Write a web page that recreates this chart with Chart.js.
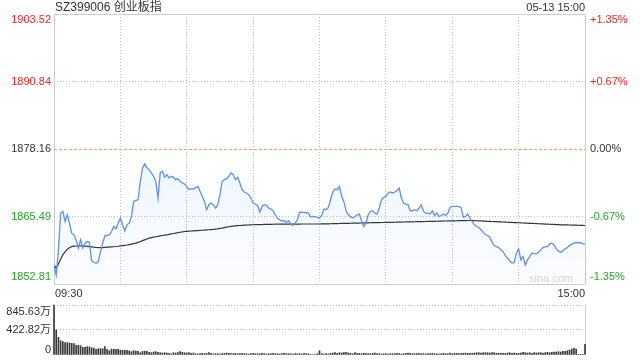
<!DOCTYPE html>
<html>
<head>
<meta charset="utf-8">
<script src="https://cdn.jsdelivr.net/npm/chart.js@4"></script>
<style>
  html, body { margin: 0; padding: 0; background: #fff; }
  #wrap { position: relative; width: 640px; height: 360px; }
  canvas { position: absolute; left: 0; top: 0; }
</style>
</head>
<body>
<div id="wrap">
  <canvas id="priceChart" width="640" height="360"></canvas>
  <canvas id="volChart" width="640" height="360"></canvas>
</div>
<script>
//Chart data
var title = 'SZ399006 创业板指';
var stamp = '05-13 15:00';
var prevClose = 1878.16;
var priceTicks = [1852.81, 1865.49, 1878.16, 1890.84, 1903.52];
var pctLabels = ['-1.35%', '-0.67%', '0.00%', '+0.67%', '+1.35%'];
var gridMinutes = [0, 30, 60, 90, 120, 150, 180, 210, 240];
var timeLabels = ['09:30', '15:00'];
var volTicks = [0, 422.82, 845.63];
var volLabels = ['0', '422.82万', '845.63万'];

//One value per minute, 09:30 .. 11:30 / 13:00 .. 15:00
var price = [
  1856.39, 1854.51, 1859.22, 1866.13, 1866.44, 1864.55, 1865.81, 1864.25, 1862.36, 1862.05,
  1861.10, 1859.54, 1861.10, 1859.54, 1860.48, 1860.78, 1860.67, 1857.15, 1856.90, 1856.71,
  1857.02, 1858.90, 1860.48, 1861.86, 1861.92, 1862.05, 1862.67, 1863.61, 1863.18, 1864.25,
  1865.20, 1863.93, 1862.80, 1863.93, 1864.25, 1865.50, 1868.32, 1868.51, 1868.64, 1872.09,
  1874.62, 1875.37, 1874.62, 1874.30, 1873.68, 1873.04, 1872.09, 1868.96, 1873.68, 1873.98,
  1872.85, 1873.36, 1872.73, 1873.04, 1872.85, 1872.41, 1872.60, 1872.09, 1871.79, 1871.60,
  1871.15, 1870.53, 1870.72, 1870.66, 1870.85, 1871.15, 1870.21, 1869.27, 1868.32, 1866.76,
  1867.70, 1868.02, 1867.70, 1867.08, 1867.70, 1869.59, 1872.09, 1872.41, 1872.60, 1873.04,
  1873.68, 1873.36, 1872.41, 1872.85, 1871.79, 1870.53, 1870.09, 1869.91, 1869.59, 1868.96,
  1868.02, 1867.83, 1867.57, 1866.33, 1867.38, 1867.70, 1867.57, 1867.08, 1866.89, 1866.57,
  1865.81, 1865.20, 1864.87, 1864.69, 1864.69, 1864.37, 1864.69, 1864.06, 1863.80, 1864.25,
  1864.87, 1866.33, 1866.25, 1866.25, 1866.19, 1866.13, 1865.38, 1865.50, 1865.44, 1865.31,
  1865.20, 1865.68, 1866.89, 1866.76, 1867.19, 1868.64, 1870.09, 1870.66, 1870.53, 1871.15,
  1869.27, 1868.32, 1866.57, 1865.81, 1865.50, 1865.20, 1865.50, 1865.81, 1865.95, 1864.69,
  1863.61, 1864.25, 1865.81, 1866.44, 1866.57, 1866.13, 1865.95, 1867.08, 1868.64, 1869.08,
  1869.27, 1869.91, 1870.09, 1869.91, 1870.09, 1870.34, 1870.85, 1868.96, 1868.02, 1867.83,
  1867.70, 1866.57, 1866.57, 1866.76, 1866.57, 1867.08, 1867.70, 1866.44, 1866.13, 1866.13,
  1865.95, 1866.57, 1865.68, 1866.13, 1865.50, 1865.68, 1865.95, 1865.68, 1866.13, 1867.19,
  1867.38, 1867.38, 1867.38, 1867.33, 1867.19, 1865.31, 1865.50, 1865.95, 1865.20, 1864.55,
  1863.93, 1863.61, 1863.42, 1862.99, 1862.55, 1862.05, 1861.92, 1861.54, 1860.67, 1860.03,
  1859.84, 1859.65, 1859.22, 1858.90, 1858.15, 1857.66, 1857.15, 1856.71, 1856.90, 1858.60,
  1859.41, 1857.34, 1857.96, 1856.39, 1857.34, 1857.96, 1858.60, 1858.52, 1858.47, 1858.78,
  1859.22, 1859.65, 1859.84, 1859.84, 1860.30, 1860.48, 1860.16, 1859.41, 1859.03, 1858.78,
  1859.03, 1859.41, 1859.65, 1860.03, 1860.30, 1860.48, 1860.60, 1860.54, 1860.60, 1860.35,
  1860.30
];

var avgPrice = [
  1856.39, 1855.77, 1856.58, 1857.52, 1858.28, 1858.84, 1859.35, 1859.60, 1859.84, 1859.92,
  1859.95, 1859.96, 1859.96, 1859.95, 1859.92, 1859.88, 1859.84, 1859.78, 1859.72, 1859.67,
  1859.64, 1859.64, 1859.66, 1859.69, 1859.72, 1859.75, 1859.78, 1859.81, 1859.85, 1859.90,
  1859.96, 1860.02, 1860.08, 1860.14, 1860.22, 1860.30, 1860.38, 1860.48, 1860.62, 1860.78,
  1860.95, 1861.10, 1861.26, 1861.42, 1861.52, 1861.61, 1861.69, 1861.76, 1861.84, 1861.92,
  1861.99, 1862.05, 1862.13, 1862.21, 1862.29, 1862.37, 1862.45, 1862.53, 1862.60, 1862.67,
  1862.70, 1862.73, 1862.76, 1862.79, 1862.82, 1862.85, 1862.88, 1862.91, 1862.94, 1862.97,
  1863.00, 1863.04, 1863.08, 1863.13, 1863.18, 1863.25, 1863.32, 1863.40, 1863.48, 1863.56,
  1863.63, 1863.69, 1863.74, 1863.77, 1863.80, 1863.83, 1863.86, 1863.88, 1863.90, 1863.93,
  1863.94, 1863.95, 1863.96, 1863.97, 1863.98, 1863.99, 1864.00, 1864.01, 1864.02, 1864.03,
  1864.04, 1864.04, 1864.05, 1864.05, 1864.06, 1864.06, 1864.07, 1864.07, 1864.07, 1864.07,
  1864.07, 1864.07, 1864.08, 1864.08, 1864.08, 1864.08, 1864.08, 1864.08, 1864.08, 1864.08,
  1864.08, 1864.09, 1864.10, 1864.11, 1864.12, 1864.13, 1864.14, 1864.15, 1864.16, 1864.17,
  1864.18, 1864.19, 1864.20, 1864.21, 1864.22, 1864.23, 1864.24, 1864.25, 1864.26, 1864.27,
  1864.28, 1864.29, 1864.30, 1864.31, 1864.32, 1864.33, 1864.34, 1864.35, 1864.36, 1864.36,
  1864.37, 1864.38, 1864.39, 1864.40, 1864.41, 1864.42, 1864.43, 1864.44, 1864.45, 1864.46,
  1864.47, 1864.48, 1864.49, 1864.50, 1864.51, 1864.52, 1864.53, 1864.54, 1864.55, 1864.56,
  1864.57, 1864.58, 1864.59, 1864.60, 1864.61, 1864.62, 1864.63, 1864.64, 1864.65, 1864.66,
  1864.67, 1864.68, 1864.69, 1864.70, 1864.71, 1864.72, 1864.73, 1864.74, 1864.74, 1864.73,
  1864.71, 1864.69, 1864.67, 1864.65, 1864.63, 1864.61, 1864.59, 1864.57, 1864.55, 1864.53,
  1864.51, 1864.49, 1864.47, 1864.45, 1864.43, 1864.41, 1864.39, 1864.37, 1864.35, 1864.33,
  1864.31, 1864.29, 1864.27, 1864.25, 1864.23, 1864.21, 1864.19, 1864.17, 1864.15, 1864.13,
  1864.11, 1864.09, 1864.07, 1864.05, 1864.03, 1864.01, 1863.99, 1863.97, 1863.95, 1863.93,
  1863.92, 1863.91, 1863.90, 1863.89, 1863.88, 1863.86, 1863.85, 1863.84, 1863.82, 1863.81,
  1863.80
];

//Volume in 万
var volume = [
  845.63, 425, 299, 242, 225, 208, 208, 205, 197, 192,
  163, 163, 160, 130, 130, 141, 135, 124, 113, 96,
  107, 107, 107, 141, 96, 73, 101, 96, 96, 96,
  79, 79, 79, 79, 68, 56, 73, 68, 62, 39,
  62, 62, 62, 45, 39, 51, 56, 45, 39, 34,
  39, 34, 28, 17, 39, 34, 39, 56, 45, 39,
  34, 39, 28, 34, 22, 17, 22, 28, 22, 28,
  39, 28, 17, 22, 22, 17, 22, 28, 34, 28,
  22, 22, 28, 22, 22, 28, 22, 22, 17, 22,
  28, 22, 22, 22, 28, 22, 17, 22, 22, 28,
  22, 22, 17, 22, 28, 22, 22, 22, 17, 22,
  22, 22, 17, 28, 22, 22, 11, 8, 11, 22,
  73, 22, 17, 22, 17, 28, 34, 39, 28, 39,
  34, 39, 45, 34, 28, 22, 39, 28, 28, 22,
  28, 28, 22, 22, 28, 34, 22, 22, 17, 22,
  22, 17, 22, 22, 22, 28, 22, 17, 22, 28,
  34, 28, 22, 22, 22, 28, 22, 22, 17, 22,
  22, 28, 22, 22, 17, 22, 28, 22, 22, 34,
  22, 28, 28, 22, 28, 28, 34, 28, 28, 28,
  34, 39, 39, 34, 39, 39, 39, 34, 39, 39,
  28, 28, 34, 28, 28, 34, 39, 28, 34, 28,
  28, 34, 45, 39, 34, 39, 28, 39, 34, 39,
  39, 34, 39, 45, 39, 45, 51, 51, 56, 51,
  62, 62, 73, 85, 101, 113, 102, 6, 6, 6,
  180
];

//Colours and fonts
var RED = '#f02626';
var GREEN = '#22a622';
var TEXT = '#333';
var GRID = '#cccccc';
var DOT = '#bdbdbd';
var FONT = '"Liberation Sans", Arial, "Noto Sans CJK SC", sans-serif';

const toPoints = arr => arr.map((v, i) => ({ x: i, y: v }));
const zeroWidth = s => { s.width = 0; };
const zeroHeight = s => { s.height = 0; };

//Price chart labels drawn next to the library's own scales
const priceLabels = {
  id: 'priceLabels',
  afterDraw(chart) {
    const ctx = chart.ctx, xs = chart.scales.x, ys = chart.scales.y;
    ctx.save();
    ctx.textBaseline = 'middle';
    ctx.font = '11px ' + FONT;
    priceTicks.forEach(function(v, i) {
      var py = ys.getPixelForValue(v);
      if (i === 0) py -= 7;
      if (i === priceTicks.length - 1) py += 6;
      ctx.fillStyle = v > prevClose ? RED : (v < prevClose ? GREEN : TEXT);
      ctx.textAlign = 'right';
      ctx.fillText(v.toFixed(2), xs.left - 3, py);
      ctx.textAlign = 'left';
      ctx.fillText(pctLabels[i], xs.right + 5, py);
    });

    //time labels under the plot
    ctx.fillStyle = TEXT;
    ctx.textAlign = 'left';
    ctx.fillText(timeLabels[0], xs.getPixelForValue(0) + 1, ys.bottom + 10);
    ctx.textAlign = 'right';
    ctx.fillText(timeLabels[1], xs.getPixelForValue(240), ys.bottom + 10);

    //header
    ctx.fillText(stamp, xs.right, 8);
    ctx.font = '12px ' + FONT;
    ctx.textAlign = 'left';
    ctx.fillText(title, xs.left + 1, 8);

    //watermark
    ctx.font = '11px ' + FONT;
    ctx.fillStyle = '#d2d2d2';
    ctx.textAlign = 'right';
    ctx.fillText('sina.com', xs.right - 12, ys.bottom - 5);
    ctx.restore();
  }
};

const volumeLabels = {
  id: 'volumeLabels',
  afterDraw(chart) {
    const ctx = chart.ctx, xs = chart.scales.x, ys = chart.scales.y;
    ctx.save();
    ctx.textBaseline = 'middle';
    ctx.font = '11px ' + FONT;
    ctx.fillStyle = TEXT;
    ctx.textAlign = 'right';
    volTicks.forEach(function(v, i) {
      var py = ys.getPixelForValue(v);
      if (i === 0) py -= 5;
      if (i === volTicks.length - 1) py += 7;
      ctx.fillText(volLabels[i], xs.left - 3, py);
    });
    ctx.restore();
  }
};

//Build the price chart
var priceChart = new Chart(document.getElementById('priceChart'), {
  type: 'line',
  data: {
    datasets: [
      {
        label: '均价',
        data: toPoints(avgPrice),
        borderColor: '#333',
        borderWidth: 1.2,
        pointRadius: 0,
        fill: false,
        order: 2
      },
      {
        label: '价格',
        data: toPoints(price),
        borderColor: '#5b91f0',
        borderWidth: 1.3,
        pointRadius: 0,
        fill: 'start',
        backgroundColor: function(c) {
          var area = c.chart.chartArea;
          if (!area) return 'rgba(91,145,240,0.1)';
          var g = c.chart.ctx.createLinearGradient(0, area.top, 0, area.bottom);
          g.addColorStop(0, 'rgba(91,145,240,0.18)');
          g.addColorStop(1, 'rgba(91,145,240,0.02)');
          return g;
        },
        order: 1
      }
    ]
  },
  options: {
    responsive: false,
    animation: false,
    events: [],
    layout: { padding: { left: 54, right: 55, top: 14, bottom: 76 } },
    elements: { line: { tension: 0 } },
    plugins: { legend: { display: false }, tooltip: { enabled: false } },
    scales: {
      x: {
        type: 'linear',
        min: 0,
        max: 240,
        afterBuildTicks: s => { s.ticks = gridMinutes.map(v => ({ value: v })); },
        afterFit: zeroHeight,
        ticks: { display: false },
        grid: {
          lineWidth: 1,
          drawTicks: false,
          color: c => (c.tick && (c.tick.value === 0 || c.tick.value === 240)) ? GRID : DOT
        },
        border: {
          display: false,
          dash: c => (c.tick && c.tick.value !== 0 && c.tick.value !== 240) ? [1, 2] : []
        }
      },
      y: {
        min: priceTicks[0],
        max: priceTicks[priceTicks.length - 1],
        afterBuildTicks: s => { s.ticks = priceTicks.map(v => ({ value: v })); },
        afterFit: zeroWidth,
        ticks: { display: false },
        grid: {
          drawTicks: false,
          lineWidth: 1,
          color: function(c) {
            if (!c.tick) return GRID;
            if (c.tick.value === prevClose) return '#f5a46c';
            if (c.index === 0 || c.index === priceTicks.length - 1) return GRID;
            return DOT;
          }
        },
        border: {
          display: false,
          dash: function(c) {
            if (!c.tick) return [];
            if (c.tick.value === prevClose) return [3, 2];
            if (c.index === 0 || c.index === priceTicks.length - 1) return [];
            return [1, 2];
          }
        }
      }
    }
  },
  plugins: [priceLabels]
});

//Build the volume chart
var volChart = new Chart(document.getElementById('volChart'), {
  type: 'bar',
  data: {
    datasets: [{
      label: '成交量',
      data: toPoints(volume),
      backgroundColor: '#3a3a3a',
      barThickness: 1,
      clip: false
    }]
  },
  options: {
    responsive: false,
    animation: false,
    events: [],
    layout: { padding: { left: 54, right: 55, top: 305, bottom: 5 } },
    plugins: { legend: { display: false }, tooltip: { enabled: false } },
    scales: {
      x: {
        type: 'linear',
        min: 0,
        max: 240,
        offset: false,
        afterBuildTicks: s => { s.ticks = [{ value: 0 }, { value: 240 }]; },
        afterFit: zeroHeight,
        ticks: { display: false },
        grid: { color: GRID, drawTicks: false, offset: false },
        border: { display: false }
      },
      y: {
        min: 0,
        max: volTicks[volTicks.length - 1],
        afterBuildTicks: s => { s.ticks = volTicks.map(v => ({ value: v })); },
        afterFit: zeroWidth,
        ticks: { display: false },
        grid: {
          drawTicks: false,
          color: c => (c.tick && c.tick.value === 0) ? 'rgba(0,0,0,0)' : DOT
        },
        border: { display: false, dash: c => c.tick ? [1, 2] : [] }
      }
    }
  },
  plugins: [volumeLabels]
});
</script>
</body>
</html>
